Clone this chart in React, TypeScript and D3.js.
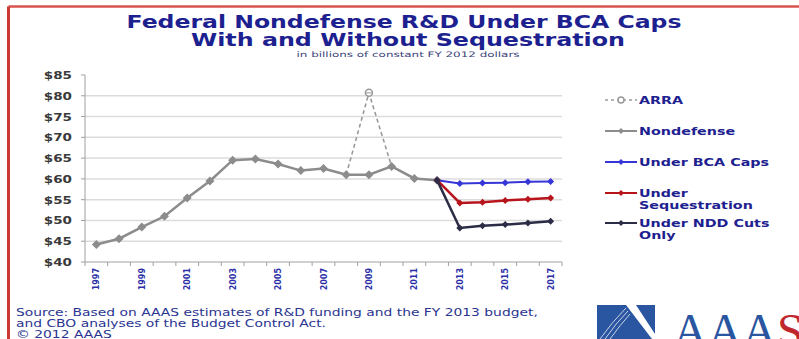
import React from "react";
import * as d3 from "d3";

const years = [1997,1998,1999,2000,2001,2002,2003,2004,2005,2006,2007,2008,2009,2010,2011,2012,2013,2014,2015,2016,2017];
const nondefense: [number, number][] = [[1997,44.2],[1998,45.6],[1999,48.4],[2000,51.0],[2001,55.4],[2002,59.5],[2003,64.5],[2004,64.8],[2005,63.6],[2006,62.0],[2007,62.5],[2008,61.0],[2009,61.0],[2010,63.0],[2011,60.1],[2012,59.7]];
const arra: [number, number][] = [[2008,61.0],[2009,80.7],[2010,63.0]];
const bcaCaps: [number, number][] = [[2012,59.7],[2013,58.9],[2014,59.0],[2015,59.1],[2016,59.3],[2017,59.4]];
const sequestration: [number, number][] = [[2012,59.7],[2013,54.2],[2014,54.4],[2015,54.8],[2016,55.1],[2017,55.4]];
const nddCuts: [number, number][] = [[2012,59.7],[2013,48.2],[2014,48.7],[2015,49.0],[2016,49.4],[2017,49.8]];
const yTicks = [40,45,50,55,60,65,70,75,80,85];
const xLabels = [1997,1999,2001,2003,2005,2007,2009,2011,2013,2015,2017];
const sourceLines = [
  "Source: Based on AAAS estimates of R&D funding and the FY 2013 budget,",
  "and CBO analyses of the Budget Control Act.",
  "© 2012 AAAS",
];

const NAVY = "#1d2190";
const SX = 1.3;

export default function App() {
  const left = 85, right = 562, top = 75, bottom = 262;
  const x = d3.scaleBand<number>().domain(years).range([left, right]);
  const cx = (yr: number) => (x(yr) as number) + x.bandwidth() / 2;
  const y = d3.scaleLinear().domain([40, 85]).range([bottom, top]);
  const line = d3.line<[number, number]>().x(d => cx(d[0])).y(d => y(d[1]));

  const diamond = (px: number, py: number, r: number, fill: string, key: string) => (
    <path key={key} d={`M${px},${py - r}L${px + r},${py}L${px},${py + r}L${px - r},${py}Z`} fill={fill} />
  );

  const series = [
    { data: bcaCaps, color: "#3535d8", w: 2, r: 3.5 },
    { data: sequestration, color: "#b8141c", w: 2.5, r: 3.5 },
    { data: nddCuts, color: "#2b2c45", w: 2.5, r: 3.5 },
  ];

  const legend = [
    { label: ["ARRA"], color: "#9a9a9a", dash: "3,3", hollow: true, y: 100 },
    { label: ["Nondefense"], color: "#8c8c8c", dash: "", hollow: false, y: 131 },
    { label: ["Under BCA Caps"], color: "#3535d8", dash: "", hollow: false, y: 162 },
    { label: ["Under", "Sequestration"], color: "#b8141c", dash: "", hollow: false, y: 193 },
    { label: ["Under NDD Cuts", "Only"], color: "#2b2c45", dash: "", hollow: false, y: 223 },
  ];

  return (
    <svg width={799} height={339} style={{ position: "absolute", left: 0, top: 0, background: "#fff" }}>
      <rect x={0} y={0} width={799} height={339} fill="#fff" />
      {/* border */}
      <line x1={8.5} y1={6.5} x2={799} y2={6.5} stroke="#d9534f" strokeWidth={2.5} />
      <line x1={8.5} y1={6.5} x2={8.5} y2={339} stroke="#cc3a36" strokeWidth={3} />

      {/* titles */}
      <text x={404} y={28} textAnchor="middle" fontFamily="DejaVu Sans" fontWeight="bold" fontSize={18} fill={NAVY} textLength={555} lengthAdjust="spacingAndGlyphs">Federal Nondefense R&amp;D Under BCA Caps</text>
      <text x={408} y={46} textAnchor="middle" fontFamily="DejaVu Sans" fontWeight="bold" fontSize={18} fill={NAVY} textLength={434} lengthAdjust="spacingAndGlyphs">With and Without Sequestration</text>
      <text x={408} y={57} textAnchor="middle" fontFamily="DejaVu Sans" fontSize={7.5} fill="#3a3f7a" textLength={223} lengthAdjust="spacingAndGlyphs">in billions of constant FY 2012 dollars</text>

      {/* gridlines */}
      {yTicks.filter(t => t > 40 && t < 85).map(t => (
        <line key={"g" + t} x1={left} x2={right} y1={y(t)} y2={y(t)} stroke="#dcdcdc" strokeWidth={1.5} />
      ))}
      {/* axes */}
      <line x1={left} x2={left} y1={top} y2={bottom} stroke="#a0a0a0" strokeWidth={1} />
      <line x1={left} x2={right} y1={bottom} y2={bottom} stroke="#a0a0a0" strokeWidth={1} />
      {yTicks.map(t => (
        <g key={"y" + t}>
          <line x1={left - 4} x2={left} y1={y(t)} y2={y(t)} stroke="#a0a0a0" />
          <text transform={`translate(72,${y(t) + 4}) scale(1.35,1)`} textAnchor="end" fontFamily="DejaVu Sans" fontWeight="bold" fontSize={10} fill="#3a3a3a">${t}</text>
        </g>
      ))}
      {years.concat([2018]).map((yr, i) => {
        const px = left + i * x.step();
        return <line key={"xt" + i} x1={px} x2={px} y1={bottom} y2={bottom + 4} stroke="#a0a0a0" />;
      })}
      {xLabels.map(yr => (
        <text key={"xl" + yr} transform={`translate(${cx(yr) + 3},${268}) rotate(-90)`} textAnchor="end" fontFamily="DejaVu Sans" fontWeight="bold" fontSize={8} fill="#2a2fa8">{yr}</text>
      ))}

      {/* ARRA */}
      <path d={line(arra) || ""} fill="none" stroke="#9a9a9a" strokeWidth={1.6} strokeDasharray="4,3" />
      <circle cx={cx(2009)} cy={y(80.7)} r={3.5} fill="#fff" stroke="#9a9a9a" strokeWidth={1.5} />
      <line x1={cx(2009) - 3.5} x2={cx(2009) + 3.5} y1={y(80.7)} y2={y(80.7)} stroke="#9a9a9a" strokeWidth={1} />

      {/* Nondefense */}
      <path d={line(nondefense) || ""} fill="none" stroke="#8c8c8c" strokeWidth={2.5} />
      {nondefense.map(d => diamond(cx(d[0]), y(d[1]), 4.5, "#8c8c8c", "n" + d[0]))}

      {series.map((s, i) => (
        <g key={"s" + i}>
          <path d={line(s.data) || ""} fill="none" stroke={s.color} strokeWidth={s.w} />
          {s.data.map(d => diamond(cx(d[0]), y(d[1]), s.r, s.color, "m" + i + d[0]))}
        </g>
      ))}

      {/* legend */}
      {legend.map((l, i) => (
        <g key={"l" + i}>
          <line x1={605} x2={637} y1={l.y} y2={l.y} stroke={l.color} strokeWidth={l.hollow ? 1.5 : 2} strokeDasharray={l.dash} />
          {l.hollow
            ? <circle cx={621} cy={l.y} r={3} fill="#fff" stroke={l.color} strokeWidth={1.5} />
            : diamond(621, l.y, 3, l.color, "ld" + i)}
          {l.label.map((t, j) => (
            <text key={j} transform={`translate(639,${l.y + 4 + j * 12}) scale(${SX},1)`} fontFamily="DejaVu Sans" fontWeight="bold" fontSize={11} fill={NAVY}>{t}</text>
          ))}
        </g>
      ))}

      {/* source */}
      {sourceLines.map((t, i) => (
        <text key={"src" + i} transform={`translate(16,${316 + i * 11}) scale(1.32,1)`} fontFamily="DejaVu Sans" fontSize={10.5} fill="#2a3590">{t}</text>
      ))}

      {/* AAAS logo */}
      <path d="M597,305 L626,305 L652,339 L597,339 Z" fill="#2a55a0" />
      <path d="M600,339 Q612,322 626,308 M605,339 Q616,323 628,311 M610,339 Q620,325 630,314" stroke="#c8d4ea" strokeWidth={1} fill="none" />
      <path d="M636,305 L655,305 L655,334 Z" fill="#2a55a0" />
      <text x={673} y={347} fontFamily="Liberation Serif" fontSize={48} fill="#2a55a0">AAA<tspan fill="#c0282e">S</tspan></text>
    </svg>
  );
}
